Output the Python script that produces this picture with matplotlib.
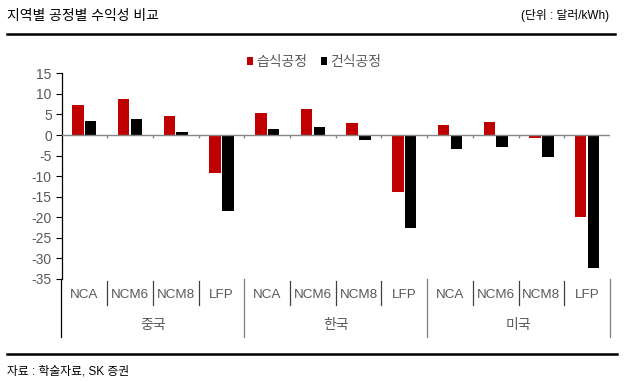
import matplotlib
matplotlib.use("Agg")
import matplotlib.pyplot as plt
import numpy as np
from matplotlib.lines import Line2D
from matplotlib.patches import Patch
from matplotlib.transforms import blended_transform_factory

plt.rcParams['font.family'] = ['Liberation Sans', 'Noto Sans CJK KR', 'DejaVu Sans']

# ---- data ----
groups = ["중국", "한국", "미국"]
processes = ["NCA", "NCM6", "NCM8", "LFP"]
series_names = ["습식공정", "건식공정"]
wet = [7.4, 8.7, 4.6, -9.3,
       5.4, 6.3, 2.8, -13.9,
       2.4, 3.2, -0.7, -20.0]
dry = [3.5, 3.9, 0.7, -18.5,
       1.4, 2.0, -1.1, -22.7,
       -3.3, -2.8, -5.4, -32.3]
yticks = [15, 10, 5, 0, -5, -10, -15, -20, -25, -30, -35]

title = "지역별 공정별 수익성 비교"
unit = "(단위 : 달러/kWh)"
source = "자료 : 학술자료, SK 증권"

W, H = 624, 382
fig = plt.figure(figsize=(W / 100, H / 100), dpi=100)

def fx(px):
    return px / W

def fy(py):
    return 1 - py / H

ax_l, ax_r, ax_t, ax_b = 61.5, 610, 73.3, 279
ax = fig.add_axes([fx(ax_l), fy(ax_b), fx(ax_r - ax_l), (ax_b - ax_t) / H])

n = len(wet)
x = np.arange(n)
red = "#C00000"
black = "#000000"
txtc = "#595959"
bw = 0.25
off = 0.14
ax.bar(x - off, wet, width=bw, color=red, zorder=3)
ax.bar(x + off, dry, width=bw, color=black, zorder=3)

ax.set_xlim(-0.5, n - 0.5)
ax.set_ylim(min(yticks), max(yticks))
ax.set_yticks(yticks)
ax.set_yticklabels([str(v) for v in yticks], fontsize=10, color=txtc)
ax.tick_params(axis='y', direction='out', length=4, width=0.8, color='black', pad=3)
ax.set_xticks([])
for s in ['top', 'right', 'bottom']:
    ax.spines[s].set_visible(False)
ax.spines['left'].set_color('black')
ax.spines['left'].set_linewidth(0.9)

# zero line and boundary ticks
ax.axhline(0, color="#868686", lw=1.0, zorder=4)
bounds = np.arange(n + 1) - 0.5
ax.vlines(bounds[1:], -0.8, 0, color="#868686", lw=1.0, zorder=4)

# multi-level category axis
tr = blended_transform_factory(ax.transData, ax.transAxes)
h = ax_b - ax_t
def ay(py):
    return (ax_b - py) / h

cat_labels = processes * len(groups)
for i, lab in enumerate(cat_labels):
    ax.text(i, ay(295), lab, transform=tr, ha='center', va='center',
            fontsize=9.7, color=txtc, clip_on=False)
for gi, g in enumerate(groups):
    cx = gi * len(processes) + (len(processes) - 1) / 2
    ax.text(cx, ay(325), g, transform=tr, ha='center', va='center',
            fontsize=10, color=txtc, clip_on=False)
for b in bounds:
    k = int(b + 0.5)
    if k % len(processes) == 0:
        col = 'black' if k == 0 else '#7f7f7f'
        ax.plot([b, b], [ay(279), ay(337)], transform=tr, color=col,
                lw=0.9, clip_on=False)
    else:
        ax.plot([b, b], [ay(281), ay(305)], transform=tr, color='#404040',
                lw=0.9, clip_on=False)

# legend
handles = [Patch(facecolor=red, edgecolor='none'), Patch(facecolor=black, edgecolor='none')]
leg = fig.legend(handles, series_names, loc='center', bbox_to_anchor=(fx(314), fy(62)),
                 ncol=2, frameon=False, fontsize=10, handlelength=0.45, handleheight=0.45,
                 handletextpad=0.2, columnspacing=1.0, borderpad=0)
for t in leg.get_texts():
    t.set_color(txtc)

# title, unit, rules, source
fig.text(fx(7), fy(16), title, ha='left', va='center', fontsize=10, color='black')
fig.text(fx(609), fy(16), unit, ha='right', va='center', fontsize=8.5, color='black')
fig.add_artist(Line2D([fx(7), fx(615)], [fy(33.5), fy(33.5)], transform=fig.transFigure,
                      color='black', lw=1.8))
fig.add_artist(Line2D([fx(7), fx(617)], [fy(354), fy(354)], transform=fig.transFigure,
                      color='black', lw=1.8))
fig.text(fx(7), fy(372), source, ha='left', va='center', fontsize=8.5, color='black')

fig.savefig("out.png", dpi=100)
